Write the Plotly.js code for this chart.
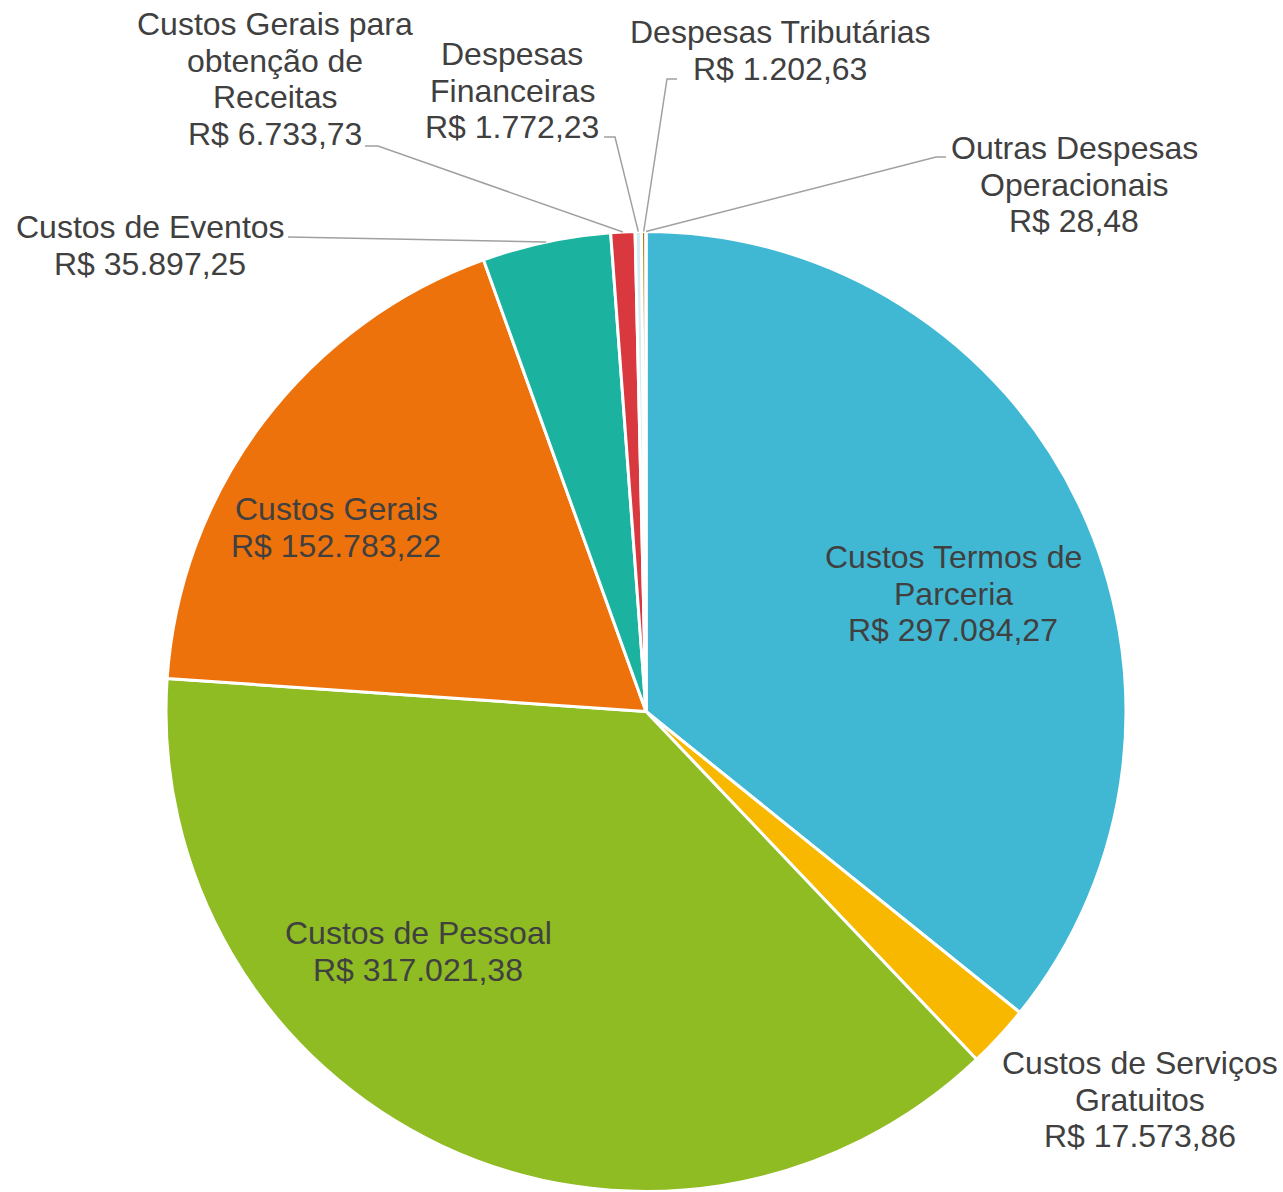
<!DOCTYPE html>
<html>
<head>
<meta charset="utf-8">
<script src="https://cdn.plot.ly/plotly-3.0.1.min.js"></script>
<style>
  html, body { margin: 0; padding: 0; background: #fff; }
  #chart { width: 1283px; height: 1192px; }
</style>
</head>
<body>
<div id="chart"></div>
<script>
// ---------- data ----------
const categories = [
  'Custos Termos de Parceria',
  'Custos de Serviços Gratuitos',
  'Custos de Pessoal',
  'Custos Gerais',
  'Custos de Eventos',
  'Custos Gerais para obtenção de Receitas',
  'Despesas Financeiras',
  'Despesas Tributárias',
  'Outras Despesas Operacionais'
];
const values = [297084.27, 17573.86, 317021.38, 152783.22, 35897.25, 6733.73, 1772.23, 1202.63, 28.48];

// how each category name is wrapped in the picture
const labelLines = [
  ['Custos Termos de', 'Parceria'],
  ['Custos de Serviços', 'Gratuitos'],
  ['Custos de Pessoal'],
  ['Custos Gerais'],
  ['Custos de Eventos'],
  ['Custos Gerais para', 'obtenção de', 'Receitas'],
  ['Despesas', 'Financeiras'],
  ['Despesas Tributárias'],
  ['Outras Despesas', 'Operacionais']
];

// ---------- styling / layout ----------
const W = 1283, H = 1192;
const CX = 646, CY = 711.5, R = 480;   // pie centre and radius, px
const LH = 36.6;                        // line height of labels, px

const colors = ['#40B8D4', '#F9B800', '#8FBB23', '#EE720B', '#1BB39F', '#D9383F', '#D4EDF5', '#A87200', '#7F7F7F'];

// label block: centre x and first-line y (px); leader: points from the text to the slice (px)
const labelPos = [
  [953, 557], [1140, 1063], [418, 933], [336, 509], [150, 227],
  [275, 24], [512, 54], [780, 32], [1074, 148]
];
const leaders = [
  null, null, null, null,
  [[288, 237]],
  [[365, 146], [378, 146]],
  [[604, 137], [615, 137]],
  [[677, 79], [667, 79]],
  [[946, 157], [936, 157]]
];

const font = { family: 'Liberation Sans, Arial, sans-serif', size: 32, color: '#404040' };

function money(v) {
  const [i, d] = v.toFixed(2).split('.');
  return 'R$ ' + i.replace(/\B(?=(\d{3})+(?!\d))/g, '.') + ',' + d;
}
const px = x => x / W;
const py = y => 1 - y / H;

// point on the rim at the middle of slice k (clockwise from 12 o'clock)
const total = values.reduce((s, v) => s + v, 0);
function rimPoint(k) {
  let before = 0;
  for (let i = 0; i < k; i++) before += values[i];
  const a = (before + values[k] / 2) / total * 2 * Math.PI;
  return [CX + R * Math.sin(a), CY - R * Math.cos(a)];
}

const annotations = [];
const shapes = [];
categories.forEach((c, i) => {
  const lines = labelLines[i].concat([money(values[i])]);
  const [lx, ly] = labelPos[i];
  lines.forEach((t, j) => {
    annotations.push({
      xref: 'paper', yref: 'paper',
      x: px(lx), y: py(ly + j * LH),
      text: t, showarrow: false,
      xanchor: 'center', yanchor: 'middle',
      font: font
    });
  });
  if (leaders[i]) {
    const pts = leaders[i].concat([rimPoint(i)]);
    const path = pts.map((p, k) => (k ? 'L' : 'M') + px(p[0]).toFixed(5) + ',' + py(p[1]).toFixed(5)).join(' ');
    shapes.push({
      type: 'path', xref: 'paper', yref: 'paper', path: path,
      line: { color: '#A0A0A0', width: 1.5 }
    });
  }
});

const data = [{
  type: 'pie',
  labels: categories,
  values: values,
  sort: false,
  direction: 'clockwise',
  rotation: 0,
  marker: { colors: colors, line: { color: '#FFFFFF', width: 3 } },
  textinfo: 'none',
  hoverinfo: 'label+value',
  domain: {
    x: [(CX - R) / W, (CX + R) / W],
    y: [1 - (CY + R) / H, 1 - (CY - R) / H]
  }
}];

const layout = {
  width: W,
  height: H,
  margin: { l: 0, r: 0, t: 0, b: 0 },
  showlegend: false,
  paper_bgcolor: '#FFFFFF',
  annotations: annotations,
  shapes: shapes
};

Plotly.newPlot('chart', data, layout, { displayModeBar: false, responsive: false });
</script>
</body>
</html>
